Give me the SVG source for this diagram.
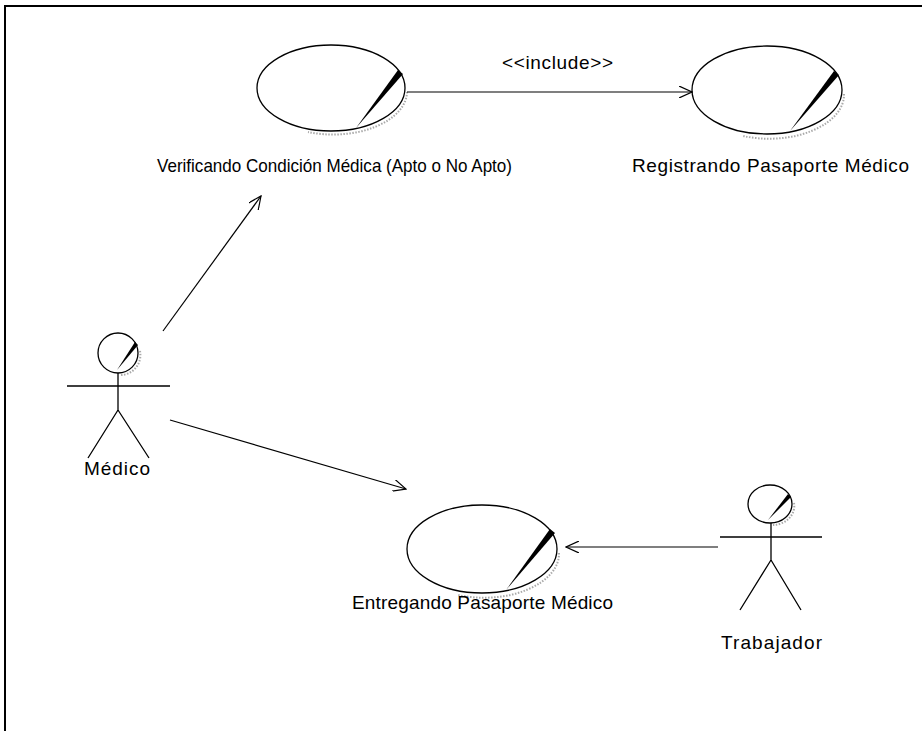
<svg xmlns="http://www.w3.org/2000/svg" width="922" height="731" viewBox="0 0 922 731">
<style>
  .lbl { font-family: "Liberation Sans", Arial, sans-serif; font-size: 19px; fill: #000; text-anchor: middle; }
  .uc { fill: #fff; stroke: #000; stroke-width: 1.3; }
  .shadow { fill: none; stroke: #aaa; stroke-width: 2; stroke-dasharray: 1.5 1.5; }
  .slash { fill: #000; stroke: none; }
  .line { fill: none; stroke: #000; stroke-width: 1.2; }
  .actor { fill: none; stroke: #000; stroke-width: 1.3; }
</style>
<defs>
  <marker id="open" viewBox="0 0 14 12" refX="13" refY="6" markerWidth="14" markerHeight="12" markerUnits="userSpaceOnUse" orient="auto">
    <path d="M0,0 L13,6 L0,12" fill="none" stroke="#000" stroke-width="1.2"/>
  </marker>
</defs>
<rect width="922" height="731" fill="#fff"/>
<path d="M5,731 L5,6 L922,6" fill="none" stroke="#000" stroke-width="2"/>

<g id="uc-verificando">
  <path class="shadow" d="M407,92 A74,43 0 0 1 308,132"/>
  <ellipse class="uc" cx="331" cy="88" rx="74" ry="43"/>
  <path class="slash" d="M398,70 L403,74 L356,128 Z"/>
  <text class="lbl" x="334.5" y="172" textLength="355" lengthAdjust="spacingAndGlyphs" style="font-size:18.5px">Verificando Condición Médica (Apto o No Apto)</text>
</g>

<g id="uc-registrando">
  <path class="shadow" d="M844,94 A75,44 0 0 1 743,136"/>
  <ellipse class="uc" cx="767" cy="90" rx="75" ry="44"/>
  <path class="slash" d="M834,71 L839,75 L790,131 Z"/>
  <text class="lbl" x="770.5" y="172" textLength="277">Registrando Pasaporte Médico</text>
</g>

<g id="uc-entregando">
  <path class="shadow" d="M559,553 A75,44 0 0 1 458,595"/>
  <ellipse class="uc" cx="482" cy="549" rx="75" ry="44"/>
  <path class="slash" d="M550,529 L555,533 L506,590 Z"/>
  <text class="lbl" x="482.5" y="609" textLength="261">Entregando Pasaporte Médico</text>
</g>

<g id="actor-medico">
  <path class="shadow" d="M140,351 A20,20 0 0 1 120,375"/>
  <circle class="actor" cx="118" cy="353" r="20"/>
  <path class="slash" d="M135,342 L138,345 L117,370 Z"/>
  <path class="actor" d="M118,373 L118,410 M67,386 L170,386 M118,410 L88,458 M118,410 L149,458"/>
  <text class="lbl" x="117" y="475" textLength="66">Médico</text>
</g>

<g id="actor-trabajador">
  <path class="shadow" d="M794,503 A22,19 0 0 1 773,525"/>
  <ellipse class="actor" cx="770" cy="504" rx="22" ry="19"/>
  <path class="slash" d="M788,494 L791,497 L768,520 Z"/>
  <path class="actor" d="M771,523 L771,560 M720,537 L822,537 M771,560 L740,610 M771,560 L801,610"/>
  <text class="lbl" x="771.5" y="649" textLength="101">Trabajador</text>
</g>

<g id="connectors">
  <line class="line" x1="407" y1="92" x2="692" y2="92" marker-end="url(#open)"/>
  <text class="lbl" x="557.5" y="69" textLength="111">&lt;&lt;include&gt;&gt;</text>
  <line class="line" x1="163" y1="331" x2="261" y2="196" marker-end="url(#open)"/>
  <line class="line" x1="170" y1="420" x2="406" y2="489" marker-end="url(#open)"/>
  <line class="line" x1="718" y1="547" x2="566" y2="547" marker-end="url(#open)"/>
</g>
</svg>
